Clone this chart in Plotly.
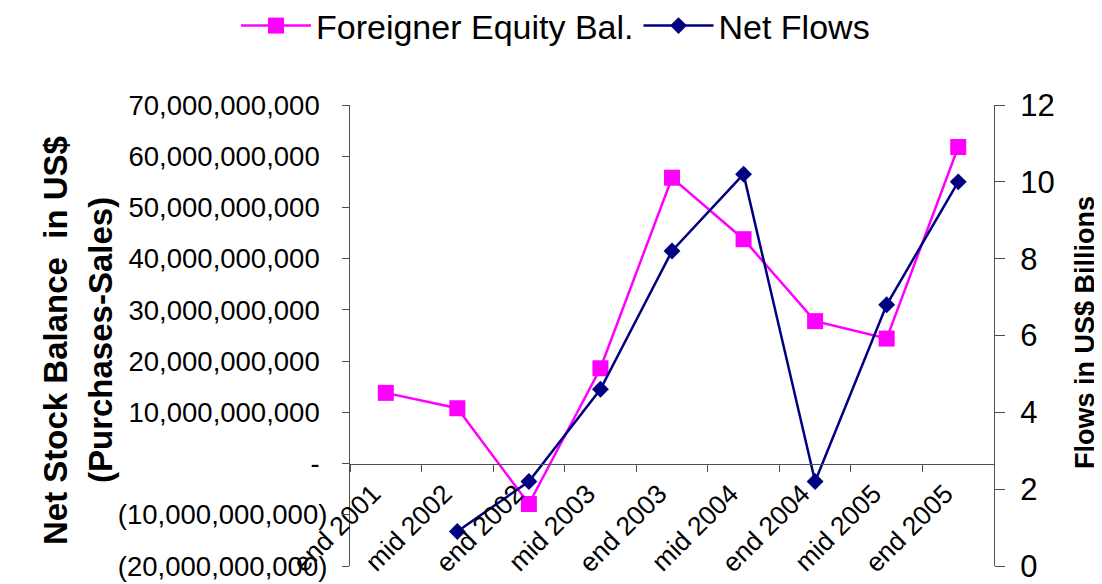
import plotly.graph_objects as go

# ---------------- data ----------------
categories = ["end 2001", "mid 2002", "end 2002", "mid 2003", "end 2003",
              "mid 2004", "end 2004", "mid 2005", "end 2005"]
equity_balance = [13.8e9, 10.8e9, -7.9e9, 18.6e9, 55.8e9,
                  43.8e9, 27.8e9, 24.4e9, 61.8e9]          # left axis, US$
net_flows = [None, 0.9, 2.2, 4.6, 8.2, 10.2, 2.2, 6.8, 10.0]  # right axis, US$ bn

left_tick_values = [-20e9, -10e9, 0, 10e9, 20e9, 30e9, 40e9, 50e9, 60e9, 70e9]
left_tick_labels = ["(20,000,000,000)", "(10,000,000,000)", "-",
                    "10,000,000,000", "20,000,000,000", "30,000,000,000",
                    "40,000,000,000", "50,000,000,000", "60,000,000,000",
                    "70,000,000,000"]
right_tick_values = [0, 2, 4, 6, 8, 10, 12]
right_tick_labels = ["0", "2", "4", "6", "8", "10", "12"]

left_title_lines = ["Net Stock Balance  in US$", "(Purchases-Sales)"]
right_title = "Flows in US$ Billions"

# ---------------- style ----------------
FONT = "Liberation Sans, Arial, sans-serif"
PINK = "#FF00FF"
NAVY = "#000080"
AXC = "#505050"
NB = "\u00a0"

# page body has an 8px offset; figure is sized so it fills the window
FIG_W, FIG_H = 1094, 576
M_L, M_R, M_T, M_B = 342, 108, 97, 18
PLOT_W = FIG_W - M_L - M_R
PLOT_H = FIG_H - M_T - M_B


def pad(lbl):
    # accounting-style alignment: digits aligned, ")" hangs to the right
    return lbl if lbl.endswith(")") else lbl + NB


def px_to_paper_x(px):
    return (px - 8 - M_L) / PLOT_W


def px_to_paper_y(py):
    return (FIG_H - M_B - (py - 8)) / PLOT_H


left_range = [left_tick_values[0], left_tick_values[-1]]
right_range = [right_tick_values[0], right_tick_values[-1]]
zero_pos = (0 - left_range[0]) / (left_range[1] - left_range[0])
n = len(categories)
boundaries = [i - 0.5 for i in range(n + 1)]

fig = go.Figure()
fig.add_trace(go.Scatter(
    x=categories, y=equity_balance, name="Foreigner Equity Bal.",
    mode="lines+markers", xaxis="x", yaxis="y",
    line=dict(color=PINK, width=2.5),
    marker=dict(symbol="square", size=16, color=PINK),
))
fig.add_trace(go.Scatter(
    x=categories, y=net_flows, name="Net Flows",
    mode="lines+markers", xaxis="x", yaxis="y2",
    line=dict(color=NAVY, width=2.5),
    marker=dict(symbol="diamond", size=13, color=NAVY),
))

annotations = [
    dict(text="<b>%s</b>" % left_title_lines[0], textangle=-90,
         xref="paper", yref="paper", x=px_to_paper_x(55), y=px_to_paper_y(341),
         xanchor="center", yanchor="middle", showarrow=False,
         font=dict(size=33)),
    dict(text="<b>%s</b>" % left_title_lines[1], textangle=-90,
         xref="paper", yref="paper", x=px_to_paper_x(100), y=px_to_paper_y(340),
         xanchor="center", yanchor="middle", showarrow=False,
         font=dict(size=33)),
    dict(text="<b>%s</b>" % right_title, textangle=-90,
         xref="paper", yref="paper", x=px_to_paper_x(1085), y=px_to_paper_y(333),
         xanchor="center", yanchor="middle", showarrow=False,
         font=dict(size=27)),
]

fig.update_layout(
    width=FIG_W, height=FIG_H,
    template="none",
    paper_bgcolor="white", plot_bgcolor="white",
    margin=dict(l=M_L, r=M_R, t=M_T, b=M_B, autoexpand=False),
    font=dict(family=FONT, size=26, color="black"),
    showlegend=True,
    legend=dict(orientation="h", xref="container", yref="container",
                x=(236 - 8) / FIG_W, y=1 - (26 - 8) / FIG_H,
                xanchor="left", yanchor="middle",
                font=dict(size=34), bgcolor="rgba(0,0,0,0)",
                itemwidth=70, tracegroupgap=0),
    annotations=annotations,
    xaxis=dict(
        type="category", categoryorder="array", categoryarray=categories,
        range=[-0.5, n - 0.5], anchor="free", position=zero_pos,
        showline=True, linecolor=AXC, linewidth=1.3,
        ticks="outside", tickson="boundaries", ticklen=7, tickcolor=AXC,
        tickwidth=1.3, tickangle=-45, tickfont=dict(size=26.5),
        showgrid=False, zeroline=False, automargin=False,
        ticklabelshift=-13, ticklabelstandoff=3,
    ),
    xaxis2=dict(
        overlaying="x", type="linear", range=[-0.5, n - 0.5],
        anchor="free", position=zero_pos,
        tickmode="array", tickvals=boundaries, ticks="inside", ticklen=7,
        tickcolor=AXC, tickwidth=1.3, showticklabels=False,
        showline=False, showgrid=False, zeroline=False, automargin=False,
    ),
    yaxis=dict(
        range=left_range, tickmode="array", tickvals=left_tick_values,
        ticktext=[pad(t) for t in left_tick_labels],
        showline=True, linecolor=AXC, linewidth=1.3,
        ticks="outside", ticklen=7, tickcolor=AXC, tickwidth=1.3,
        tickfont=dict(size=27.5), showgrid=False, zeroline=False,
        automargin=False, ticklabelstandoff=9,
    ),
    yaxis3=dict(
        overlaying="y", side="left", range=left_range, anchor="x",
        tickmode="array", tickvals=left_tick_values, ticks="inside",
        ticklen=7, tickcolor=AXC, tickwidth=1.3, showticklabels=False,
        showline=False, showgrid=False, zeroline=False, automargin=False,
    ),
    yaxis2=dict(
        overlaying="y", side="right", anchor="x", range=right_range,
        tickmode="array", tickvals=right_tick_values, ticktext=right_tick_labels,
        showline=True, linecolor=AXC, linewidth=1.3,
        ticks="outside", ticklen=10, tickcolor=AXC, tickwidth=1.3,
        tickfont=dict(size=31), showgrid=False, zeroline=False,
        automargin=False, ticklabelstandoff=9,
    ),
    yaxis4=dict(
        overlaying="y", side="right", anchor="x", range=right_range,
        tickmode="array", tickvals=right_tick_values, ticks="inside",
        ticklen=10, tickcolor=AXC, tickwidth=1.3, showticklabels=False,
        showline=False, showgrid=False, zeroline=False, automargin=False,
    ),
)

fig.write_html("out.html")
